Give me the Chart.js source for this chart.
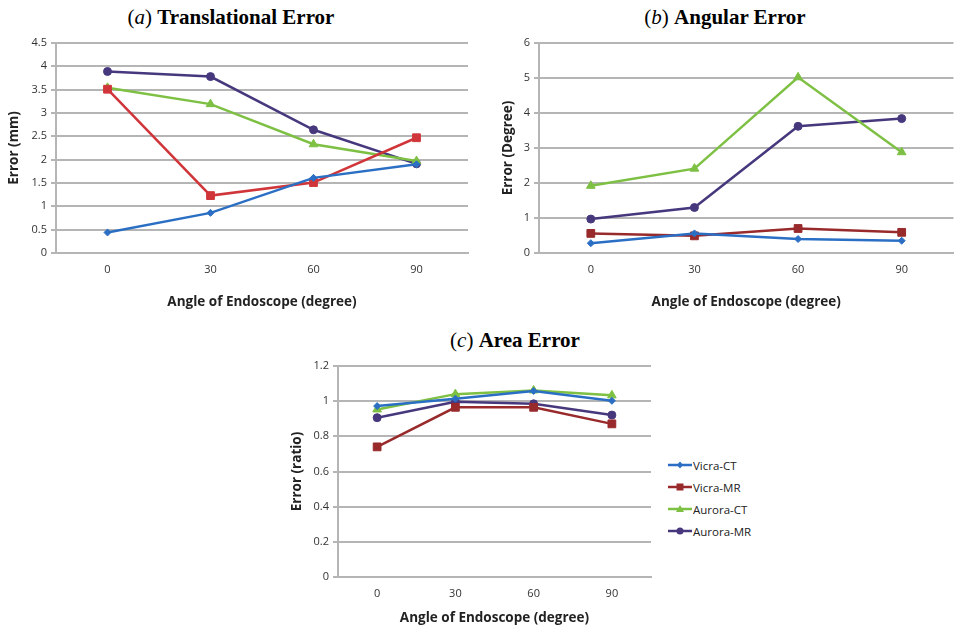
<!DOCTYPE html>
<html>
<head>
<meta charset="utf-8">
<script src="https://cdn.jsdelivr.net/npm/chart.js@4.4.1/dist/chart.umd.min.js"></script>
<style>
  html, body { margin:0; padding:0; width:955px; height:626px; overflow:hidden; background:#fff; }
  canvas { position:absolute; }
  .ttl { position:absolute; transform:translate(-50%,-50%); font-family:"Liberation Serif","Times New Roman",serif; font-size:21px; white-space:nowrap; color:#000; }
  .ttl b { font-weight:bold; }
  .ttl i { font-style:italic; }
  #legend { position:absolute; left:668px; top:454px; font-family:"Open Sans",sans-serif; font-size:11.5px; color:#222; }
  #legend .row { height:22px; display:flex; align-items:center; }
  #legend svg { margin-right:1px; }
</style>
</head>
<body>
<div class="ttl" style="left:231px;top:17px">(<i>a</i>) <b>Translational Error</b></div>
<div class="ttl" style="left:725px;top:17px">(<i>b</i>) <b>Angular Error</b></div>
<div class="ttl" style="left:515px;top:340px">(<i>c</i>) <b>Area Error</b></div>
<canvas id="cA" width="480" height="310" style="left:0;top:0"></canvas>
<canvas id="cB" width="480" height="310" style="left:480px;top:0"></canvas>
<canvas id="cC" width="380" height="306" style="left:280px;top:320px"></canvas>
<div id="legend"></div>
<script>
// ---- data ----
const categories = ['0', '30', '60', '90'];
const seriesNames = ['Vicra-CT', 'Vicra-MR', 'Aurora-CT', 'Aurora-MR'];

const transVicraCT  = [0.44, 0.86, 1.61, 1.90];
const transVicraMR  = [3.51, 1.23, 1.51, 2.47];
const transAuroraCT = [3.54, 3.19, 2.33, 1.97];
const transAuroraMR = [3.89, 3.78, 2.64, 1.91];

const angVicraCT  = [0.28, 0.56, 0.40, 0.35];
const angVicraMR  = [0.56, 0.49, 0.70, 0.59];
const angAuroraCT = [1.92, 2.41, 5.02, 2.88];
const angAuroraMR = [0.97, 1.30, 3.62, 3.84];

const areaVicraCT  = [0.972, 1.014, 1.058, 1.002];
const areaVicraMR  = [0.740, 0.965, 0.965, 0.871];
const areaAuroraCT = [0.953, 1.040, 1.061, 1.033];
const areaAuroraMR = [0.906, 0.997, 0.985, 0.921];

const transTicks = [0, 0.5, 1, 1.5, 2, 2.5, 3, 3.5, 4, 4.5];
const angTicks   = [0, 1, 2, 3, 4, 5, 6];
const areaTicks  = [0, 0.2, 0.4, 0.6, 0.8, 1, 1.2];

// ---- styles ----
const blue = '#2b6fc4';
const redA = '#d0353a';
const redB = '#982a2c';
const green = '#7dc043';
const purple = '#47387e';
const pointStyles = ['rectRot', 'rect', 'triangle', 'circle'];
const pointRadii = [3.5, 5.5, 5, 4];
const gridColor = '#b5b5b5';
const tickFont = { family: 'Open Sans', size: 11 };
const titleFont = { family: 'Open Sans', size: 13.5, weight: 'bold' };

function makeDatasets(values, colors) {
  return values.map((v, i) => ({
    label: seriesNames[i],
    data: v,
    borderColor: colors[i],
    backgroundColor: colors[i],
    borderWidth: 2.5,
    pointStyle: pointStyles[i],
    pointRadius: pointRadii[i],
    pointBorderWidth: 1,
    pointBackgroundColor: colors[i],
    pointBorderColor: colors[i],
    tension: 0,
    clip: false
  }));
}

function makeChart(id, values, colors, ticksArr, yTitle, cfg) {
  new Chart(document.getElementById(id), {
    type: 'line',
    data: { labels: categories, datasets: makeDatasets(values, colors) },
    options: {
      responsive: false,
      animation: false,
      layout: { padding: { top: cfg.top, right: cfg.right, left: 0, bottom: 0 } },
      plugins: { legend: { display: false }, tooltip: { enabled: false } },
      scales: {
        x: {
          offset: true,
          grid: { display: true, drawOnChartArea: false, drawTicks: false },
          border: { display: true, color: gridColor, width: 2 },
          ticks: { font: tickFont, color: '#333', padding: 10, maxRotation: 0 },
          title: { display: true, text: 'Angle of Endoscope (degree)', font: titleFont, color: '#222', padding: { top: cfg.xTitlePad, bottom: 0 } },
          afterFit: s => { s.height = cfg.xHeight; }
        },
        y: {
          min: ticksArr[0],
          max: ticksArr[ticksArr.length - 1],
          afterBuildTicks: s => { s.ticks = ticksArr.map(v => ({ value: v })); },
          grid: { color: gridColor, lineWidth: 2, tickLength: 5, tickColor: gridColor },
          border: { display: true, color: gridColor, width: 2 },
          ticks: { font: tickFont, color: '#333', padding: 4, callback: v => String(v) },
          title: { display: true, text: yTitle, font: titleFont, color: '#222', padding: { top: cfg.yTitlePad, bottom: 0 } },
          afterFit: s => { s.width = cfg.yWidth; }
        }
      }
    }
  });
}

makeChart('cA', [transVicraCT, transVicraMR, transAuroraCT, transAuroraMR], [blue, redA, green, purple], transTicks, 'Error (mm)',
  { top: 43, right: 12, yWidth: 56, xHeight: 57, xTitlePad: 9, yTitlePad: 6 });
makeChart('cB', [angVicraCT, angVicraMR, angAuroraCT, angAuroraMR], [blue, redB, green, purple], angTicks, 'Error (Degree)',
  { top: 43, right: 1, yWidth: 59, xHeight: 57, xTitlePad: 8, yTitlePad: 20 });
makeChart('cC', [areaVicraCT, areaVicraMR, areaAuroraCT, areaAuroraMR], [blue, redB, green, purple], areaTicks, 'Error (ratio)',
  { top: 46, right: 380 - 651 + 280, yWidth: 58, xHeight: 306 - 257, xTitlePad: 1, yTitlePad: 9 });

// ---- legend for (c) ----
const legendColors = [blue, redB, green, purple];
const legendEl = document.getElementById('legend');
seriesNames.forEach((name, i) => {
  const c = legendColors[i];
  let marker;
  if (i === 0) marker = `<polygon points="12,1.5 15,5 12,8.5 9,5" fill="${c}"/>`;
  else if (i === 1) marker = `<rect x="8.5" y="1.5" width="7" height="7" fill="${c}"/>`;
  else if (i === 2) marker = `<polygon points="12,1 16,8 8,8" fill="${c}"/>`;
  else marker = `<circle cx="12" cy="5" r="3.5" fill="${c}"/>`;
  const row = document.createElement('div');
  row.className = 'row';
  row.innerHTML = `<svg width="24" height="10"><line x1="0" y1="5" x2="24" y2="5" stroke="${c}" stroke-width="2.5"/>${marker}</svg><span>${name}</span>`;
  legendEl.appendChild(row);
});
</script>
</body>
</html>
